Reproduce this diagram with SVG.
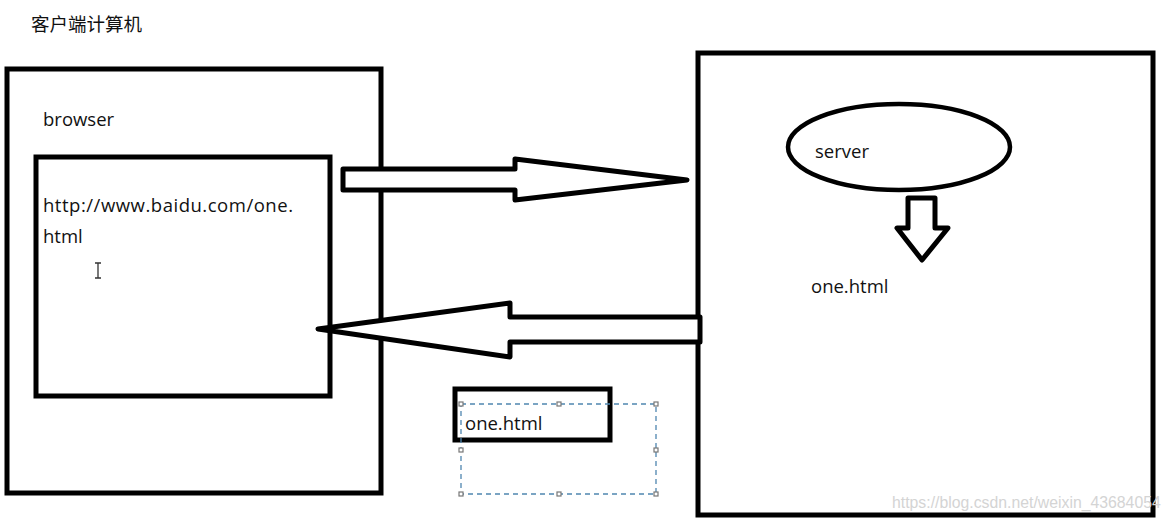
<svg xmlns="http://www.w3.org/2000/svg" width="1173" height="524" viewBox="0 0 1173 524">
<style>
.box{fill:none;stroke:#000;stroke-width:5}
.arr{fill:#fff;stroke:#000;stroke-width:5;stroke-linejoin:round}
.t{font-family:"Open Sans","Noto Sans CJK SC",sans-serif;font-size:18.5px;fill:#111}
.cjk{font-family:"Noto Sans CJK SC",sans-serif;font-size:18.5px;fill:#111}
.sel{fill:none;stroke:#4f86b0;stroke-width:1.3;stroke-dasharray:5 4}
.h{fill:#fff;stroke:#777;stroke-width:1.2}
.wm{font-family:"Liberation Sans",sans-serif;font-size:15.8px;fill:#d4d4d4}
</style>
<rect width="1173" height="524" fill="#fff"/>
<text class="cjk" x="31" y="31">客户端计算机</text>
<g id="client">
<rect class="box" x="7" y="69" width="374" height="424"/>
<text class="t" x="43" y="126">browser</text>
</g>
<g id="browser">
<rect class="box" x="36" y="157" width="294" height="239"/>
<text class="t" x="43" y="212" textLength="250">http://www.baidu.com/one.</text>
<text class="t" x="43" y="243">html</text>
<path d="M95 263h6M98 263v15M95 278h6" stroke="#333" stroke-width="1.3" fill="none"/>
</g>
<g id="server-computer">
<rect class="box" x="698" y="53" width="455" height="462"/>
</g>
<g id="server">
<ellipse cx="899" cy="147" rx="111" ry="43" fill="none" stroke="#000" stroke-width="4.5"/>
<text class="t" x="815" y="158">server</text>
</g>
<g id="file">
<text class="t" x="811" y="293">one.html</text>
</g>
<g id="copy">
<rect class="box" x="455" y="389" width="155" height="51"/>
<text class="t" x="465" y="430">one.html</text>
<rect class="sel" x="461" y="404" width="195" height="90"/>
<rect class="h" x="459" y="402" width="4" height="4"/>
<rect class="h" x="557" y="402" width="4" height="4"/>
<rect class="h" x="654" y="402" width="4" height="4"/>
<rect class="h" x="459" y="448" width="4" height="4"/>
<rect class="h" x="654" y="448" width="4" height="4"/>
<rect class="h" x="459" y="492" width="4" height="4"/>
<rect class="h" x="557" y="492" width="4" height="4"/>
<rect class="h" x="654" y="492" width="4" height="4"/>
</g>
<g id="connectors">
<path class="arr" d="M343 169H515V159L687 180L515 200V190H343Z"/>
<path class="arr" d="M700 317H510V303L318 329L510 357V342H700Z"/>
<path class="arr" d="M908 198H935V228H948L922 260L897 228H908Z" stroke-width="4.5"/>
</g>
<text class="wm" x="892" y="508">https://blog.csdn.net/weixin_43684054</text>
</svg>
